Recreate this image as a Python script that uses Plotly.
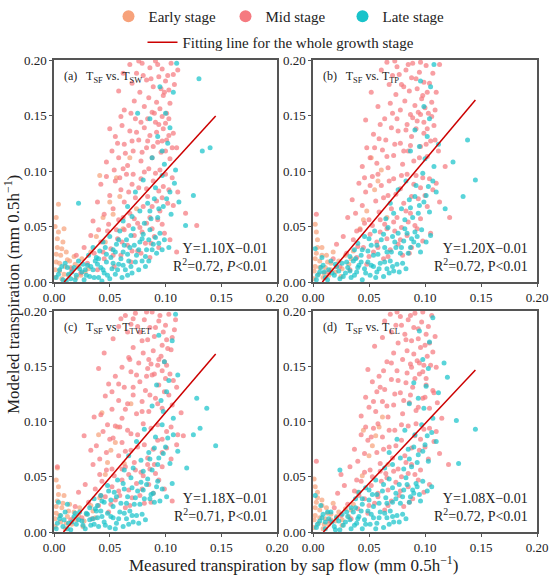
#!/usr/bin/env python3
"""
Measured (sap flow) vs modeled transpiration, 4 models, coloured by growth stage
"""

import plotly.graph_objects as go

# ---- data (mm 0.5h-1) ----
PANELS = ['a', 'b', 'c', 'd']
PANEL_TITLES = ['(a)   T<sub>SF</sub> vs. T<sub>SW</sub>',
                '(b)   T<sub>SF</sub> vs. T<sub>TP</sub>',
                '(c)   T<sub>SF</sub> vs. T<sub>TVET</sub>',
                '(d)   T<sub>SF</sub> vs. T<sub>CL</sub>']
SLOPES = [1.10, 1.20, 1.18, 1.08]
INTERCEPTS = [-0.01, -0.01, -0.01, -0.01]
R2 = [0.72, 0.72, 0.71, 0.72]
P_LABELS = ['<i>P</i>', 'P', 'P', 'P']
X_END = 0.145
TICKS = [0.00, 0.05, 0.10, 0.15, 0.20]
STAGES = ['Early stage', 'Mid stage', 'Late stage']

MID_A = [(0.068,0.196),(0.074,0.188),(0.079,0.197),(0.083,0.182),(0.086,0.193),(0.089,0.176),(0.091,0.199),(0.094,0.185),
         (0.097,0.192),(0.099,0.171),(0.102,0.186),(0.105,0.197),(0.108,0.178),(0.111,0.191),(0.072,0.163),(0.077,0.171),
         (0.081,0.158),(0.085,0.166),(0.088,0.153),(0.092,0.162),(0.095,0.156),(0.098,0.168),(0.101,0.152),(0.104,0.161),
         (0.063,0.155),(0.058,0.172),
         (0.047,0.108),(0.052,0.118),(0.055,0.131),(0.058,0.112),(0.061,0.141),(0.063,0.124),(0.066,0.105),(0.068,0.136),
         (0.071,0.118),(0.073,0.147),(0.076,0.128),(0.078,0.109),(0.081,0.139),(0.083,0.121),(0.086,0.132),(0.088,0.112),
         (0.091,0.144),(0.093,0.126),(0.096,0.117),(0.098,0.138),(0.101,0.128),(0.104,0.111),(0.107,0.134),(0.110,0.121),
         (0.060,0.149),(0.050,0.138),(0.085,0.102),(0.095,0.101),
         (0.039,0.072),(0.042,0.088),(0.045,0.061),(0.047,0.095),(0.050,0.078),(0.053,0.066),(0.055,0.091),(0.058,0.056),
         (0.060,0.083),(0.063,0.072),(0.065,0.097),(0.068,0.062),(0.070,0.088),(0.073,0.076),(0.075,0.053),(0.078,0.093),
         (0.080,0.068),(0.083,0.084),(0.086,0.058),(0.089,0.091),(0.092,0.073),(0.095,0.064),(0.098,0.086),(0.102,0.071),
         (0.106,0.094),(0.111,0.081),(0.118,0.062),(0.128,0.051),
         (0.016,0.012),(0.020,0.024),(0.024,0.008),(0.027,0.031),(0.030,0.017),(0.033,0.042),(0.036,0.026),(0.039,0.011),
         (0.042,0.036),(0.045,0.021),(0.048,0.046),(0.051,0.030),(0.054,0.014),(0.057,0.039),(0.060,0.024),(0.063,0.047),
         (0.066,0.033),(0.069,0.018),(0.072,0.042),(0.075,0.028),(0.079,0.045),(0.082,0.035),(0.086,0.022),(0.090,0.041),
         (0.094,0.031),(0.099,0.044),(0.104,0.038),(0.110,0.027),
         (0.062,0.188),(0.070,0.179),(0.076,0.199),(0.080,0.186),(0.087,0.183),(0.093,0.196),(0.096,0.174),(0.100,0.181),
         (0.103,0.173),(0.107,0.187),(0.084,0.147),(0.090,0.152),(0.094,0.142),(0.097,0.149),(0.100,0.143),(0.103,0.147),
         (0.069,0.152),(0.078,0.144),(0.057,0.125),(0.064,0.116),(0.070,0.127),(0.074,0.135),(0.079,0.117),(0.084,0.127),
         (0.089,0.122),(0.092,0.135),(0.097,0.127),(0.100,0.118),(0.103,0.132),(0.106,0.121),(0.054,0.101),(0.059,0.094),
         (0.062,0.102),(0.067,0.081),(0.071,0.097),(0.076,0.085),(0.081,0.099),(0.084,0.077),(0.088,0.068),(0.091,0.098),
         (0.094,0.082),(0.097,0.076),(0.100,0.097),(0.103,0.083),(0.107,0.069),(0.049,0.052),(0.056,0.047),(0.062,0.058),
         (0.067,0.051),(0.072,0.057),(0.077,0.049),(0.083,0.053),(0.088,0.048),(0.093,0.056),(0.097,0.052),(0.044,0.027),
         (0.053,0.024),(0.061,0.036),(0.070,0.028),(0.078,0.026),(0.087,0.035),(0.035,0.055),(0.040,0.047)]
LATE_A = [(0.002,0.004),(0.005,0.011),(0.008,0.002),(0.010,0.017),(0.013,0.007),(0.015,0.003),(0.018,0.013),(0.020,0.006),
          (0.022,0.019),(0.025,0.009),(0.027,0.002),(0.030,0.015),(0.032,0.005),(0.035,0.011),(0.037,0.019),(0.040,0.004),
          (0.042,0.013),(0.045,0.008),(0.047,0.018),(0.050,0.003),(0.052,0.012),(0.055,0.007),(0.058,0.016),(0.061,0.004),
          (0.064,0.011),(0.067,0.019),(0.070,0.008),(0.012,0.013),(0.028,0.011),(0.043,0.001),
          (0.031,0.024),(0.035,0.031),(0.038,0.022),(0.041,0.028),(0.044,0.036),(0.047,0.025),(0.050,0.041),(0.053,0.029),
          (0.056,0.034),(0.059,0.046),(0.062,0.027),(0.065,0.038),(0.068,0.031),(0.071,0.048),(0.074,0.024),(0.077,0.036),
          (0.080,0.043),(0.083,0.029),(0.086,0.047),(0.089,0.034),(0.092,0.026),(0.095,0.044),(0.099,0.038),(0.103,0.031),
          (0.060,0.021),
          (0.062,0.055),(0.066,0.068),(0.070,0.059),(0.073,0.081),(0.077,0.064),(0.080,0.092),(0.084,0.071),(0.087,0.057),
          (0.091,0.085),(0.094,0.066),(0.097,0.096),(0.101,0.075),(0.105,0.061),(0.108,0.089),(0.112,0.072),
          (0.088,0.112),(0.093,0.131),(0.097,0.118),(0.100,0.152),(0.104,0.139),(0.107,0.171),(0.110,0.197),(0.095,0.176),
          (0.102,0.125),(0.086,0.147),
          (0.022,0.071),(0.125,0.078),(0.133,0.118),(0.130,0.183),(0.140,0.121),(0.118,0.051),(0.075,0.152),
          (0.004,0.007),(0.007,0.014),(0.011,0.001),(0.016,0.009),(0.019,0.002),(0.023,0.012),(0.026,0.016),(0.029,0.006),
          (0.033,0.014),(0.036,0.004),(0.039,0.016),(0.044,0.011),(0.048,0.006),(0.053,0.017),(0.057,0.011),(0.062,0.015),
          (0.066,0.006),(0.069,0.014),(0.073,0.018),(0.076,0.011),(0.079,0.019),(0.082,0.014),(0.085,0.019),(0.040,0.021),
          (0.046,0.031),(0.051,0.022),(0.055,0.027),(0.058,0.038),(0.063,0.033),(0.066,0.025),(0.069,0.042),(0.072,0.033),
          (0.076,0.029),(0.079,0.039),(0.082,0.023),(0.085,0.038),(0.088,0.029),(0.091,0.040),(0.094,0.035),(0.097,0.029),
          (0.081,0.053),(0.086,0.064),(0.090,0.075),(0.093,0.058),(0.098,0.068),(0.104,0.081),(0.109,0.101),(0.099,0.106)]
EARLY_A = [(0.001,0.004),(0.002,0.018),(0.003,0.031),(0.004,0.045),(0.002,0.058),(0.005,0.010),(0.006,0.024),(0.008,0.036),
           (0.007,0.003),(0.010,0.014),(0.011,0.027),(0.013,0.006),(0.014,0.019),(0.016,0.010),(0.018,0.023),(0.020,0.004),
           (0.022,0.014),(0.025,0.021),(0.028,0.009),(0.004,0.070),(0.009,0.048),(0.033,0.027),(0.038,0.041),(0.044,0.058),
           (0.050,0.072),(0.056,0.094),(0.062,0.048),(0.068,0.112),(0.041,0.096),(0.074,0.066),
           (0.001,0.011),(0.002,0.025),(0.003,0.039),(0.001,0.050),(0.005,0.017),(0.007,0.030),(0.009,0.007),(0.012,0.020),
           (0.015,0.013),(0.019,0.016),(0.024,0.006),(0.031,0.012),(0.046,0.036),(0.053,0.061),(0.059,0.077)]

MID_B = [(0.066,0.198),(0.071,0.186),(0.075,0.194),(0.079,0.178),(0.083,0.191),(0.086,0.172),(0.089,0.197),(0.092,0.183),
         (0.095,0.189),(0.098,0.168),(0.101,0.195),(0.104,0.179),(0.107,0.188),(0.110,0.171),(0.113,0.196),(0.069,0.161),
         (0.074,0.169),(0.078,0.155),(0.082,0.163),(0.087,0.151),(0.091,0.159),(0.094,0.153),(0.097,0.165),(0.100,0.157),
         (0.103,0.152),(0.058,0.158),(0.052,0.171),
         (0.044,0.104),(0.048,0.121),(0.051,0.112),(0.054,0.133),(0.057,0.107),(0.060,0.142),(0.062,0.119),(0.065,0.128),
         (0.067,0.103),(0.070,0.139),(0.072,0.114),(0.075,0.147),(0.078,0.125),(0.080,0.106),(0.083,0.137),(0.085,0.118),
         (0.088,0.131),(0.090,0.109),(0.093,0.145),(0.096,0.122),(0.099,0.134),(0.102,0.113),(0.105,0.127),(0.108,0.141),
         (0.112,0.118),(0.047,0.146),(0.118,0.104),
         (0.031,0.058),(0.035,0.074),(0.038,0.062),(0.041,0.089),(0.044,0.069),(0.047,0.081),(0.050,0.056),(0.053,0.095),
         (0.056,0.073),(0.059,0.063),(0.061,0.087),(0.064,0.052),(0.067,0.078),(0.070,0.066),(0.072,0.093),(0.075,0.058),
         (0.078,0.084),(0.081,0.071),(0.084,0.097),(0.087,0.062),(0.090,0.088),(0.094,0.075),(0.098,0.094),(0.102,0.068),
         (0.107,0.083),(0.113,0.072),(0.122,0.058),(0.003,0.061),
         (0.014,0.009),(0.018,0.021),(0.021,0.034),(0.024,0.014),(0.027,0.041),(0.030,0.026),(0.033,0.011),(0.036,0.038),
         (0.039,0.022),(0.042,0.047),(0.045,0.031),(0.048,0.016),(0.051,0.043),(0.054,0.027),(0.057,0.036),(0.060,0.045),
         (0.063,0.021),(0.066,0.039),(0.069,0.029),(0.073,0.046),(0.076,0.034),(0.080,0.024),(0.084,0.042),(0.088,0.031),
         (0.093,0.048),(0.098,0.037),(0.105,0.044),
         (0.061,0.191),(0.068,0.178),(0.073,0.199),(0.077,0.187),(0.081,0.176),(0.085,0.196),(0.088,0.184),(0.093,0.174),
         (0.096,0.198),(0.099,0.180),(0.102,0.171),(0.106,0.162),(0.109,0.155),(0.084,0.142),(0.089,0.148),(0.092,0.138),
         (0.096,0.151),(0.099,0.144),(0.102,0.138),(0.106,0.149),(0.064,0.147),(0.071,0.152),(0.076,0.136),(0.055,0.121),
         (0.059,0.129),(0.066,0.113),(0.073,0.124),(0.081,0.118),(0.087,0.123),(0.095,0.112),(0.101,0.124),(0.109,0.128),
         (0.046,0.094),(0.051,0.087),(0.058,0.097),(0.063,0.076),(0.068,0.091),(0.074,0.079),(0.079,0.096),(0.083,0.064),
         (0.088,0.077),(0.092,0.096),(0.096,0.085),(0.100,0.078),(0.104,0.093),(0.110,0.089),(0.039,0.046),(0.046,0.053),
         (0.053,0.051),(0.060,0.056),(0.066,0.048),(0.072,0.054),(0.079,0.049),(0.085,0.054),(0.091,0.051),(0.096,0.057),
         (0.040,0.032),(0.050,0.023),(0.058,0.031),(0.067,0.023),(0.078,0.038),(0.086,0.026)]
LATE_B = [(0.003,0.002),(0.006,0.009),(0.009,0.015),(0.011,0.004),(0.014,0.011),(0.016,0.019),(0.019,0.006),(0.021,0.014),
          (0.024,0.003),(0.026,0.017),(0.029,0.008),(0.031,0.013),(0.034,0.004),(0.036,0.019),(0.039,0.009),(0.041,0.015),
          (0.044,0.002),(0.046,0.012),(0.049,0.018),(0.051,0.006),(0.054,0.014),(0.057,0.009),(0.060,0.017),(0.063,0.005),
          (0.066,0.012),(0.069,0.019),(0.072,0.010),(0.075,0.016),(0.008,0.022),(0.002,0.030),
          (0.033,0.023),(0.037,0.029),(0.040,0.035),(0.043,0.024),(0.046,0.041),(0.049,0.028),(0.052,0.033),(0.055,0.046),
          (0.058,0.025),(0.061,0.038),(0.064,0.031),(0.067,0.049),(0.070,0.027),(0.073,0.036),(0.076,0.044),(0.079,0.031),
          (0.082,0.048),(0.085,0.026),(0.088,0.039),(0.091,0.045),(0.094,0.033),(0.097,0.047),(0.101,0.036),(0.105,0.042),
          (0.065,0.057),(0.069,0.071),(0.072,0.062),(0.076,0.083),(0.079,0.066),(0.083,0.091),(0.086,0.074),(0.089,0.058),
          (0.092,0.087),(0.095,0.069),(0.098,0.098),(0.101,0.078),(0.104,0.063),(0.107,0.091),(0.110,0.081),
          (0.087,0.118),(0.091,0.137),(0.095,0.122),(0.099,0.158),(0.102,0.131),(0.105,0.176),(0.108,0.196),(0.096,0.181),
          (0.104,0.147),(0.112,0.124),
          (0.145,0.092),(0.138,0.128),(0.134,0.077),(0.125,0.108),(0.118,0.066),
          (0.004,0.006),(0.007,0.013),(0.010,0.009),(0.013,0.002),(0.017,0.008),(0.020,0.016),(0.023,0.010),(0.027,0.005),
          (0.030,0.018),(0.033,0.010),(0.037,0.006),(0.040,0.013),(0.043,0.018),(0.047,0.008),(0.052,0.015),(0.056,0.004),
          (0.059,0.012),(0.064,0.018),(0.068,0.008),(0.071,0.014),(0.077,0.009),(0.080,0.017),(0.083,0.012),(0.038,0.021),
          (0.044,0.029),(0.050,0.039),(0.054,0.024),(0.057,0.033),(0.063,0.043),(0.066,0.027),(0.071,0.041),(0.074,0.031),
          (0.078,0.026),(0.081,0.037),(0.084,0.044),(0.087,0.031),(0.090,0.036),(0.093,0.041),(0.096,0.027),(0.082,0.056),
          (0.087,0.067),(0.091,0.077),(0.094,0.062),(0.099,0.072),(0.103,0.086),(0.108,0.104),(0.100,0.111)]
EARLY_B = [(0.001,0.003),(0.002,0.014),(0.003,0.026),(0.004,0.038),(0.005,0.007),(0.006,0.019),(0.008,0.031),(0.009,0.004),
           (0.011,0.013),(0.012,0.024),(0.014,0.006),(0.016,0.017),(0.018,0.027),(0.020,0.009),(0.023,0.019),(0.026,0.012),
           (0.029,0.024),(0.032,0.016),(0.036,0.028),(0.002,0.052),(0.042,0.048),(0.048,0.064),(0.055,0.083),(0.061,0.101),
           (0.066,0.058),(0.052,0.112),
           (0.001,0.010),(0.002,0.021),(0.004,0.031),(0.003,0.045),(0.006,0.013),(0.008,0.024),(0.010,0.008),(0.013,0.018),
           (0.016,0.011),(0.021,0.014),(0.025,0.005),(0.034,0.021),(0.045,0.056),(0.058,0.091)]

MID_C = [(0.064,0.196),(0.069,0.188),(0.073,0.198),(0.077,0.181),(0.081,0.192),(0.084,0.174),(0.088,0.199),(0.091,0.185),
         (0.094,0.191),(0.097,0.169),(0.100,0.187),(0.103,0.197),(0.106,0.176),(0.109,0.192),(0.067,0.158),(0.071,0.167),
         (0.076,0.153),(0.080,0.162),(0.085,0.156),(0.089,0.164),(0.093,0.151),(0.096,0.159),(0.099,0.154),(0.102,0.166),
         (0.045,0.162),(0.053,0.175),(0.058,0.186),
         (0.042,0.106),(0.046,0.123),(0.049,0.134),(0.052,0.111),(0.055,0.141),(0.058,0.119),(0.061,0.103),(0.063,0.131),
         (0.066,0.116),(0.069,0.145),(0.071,0.124),(0.074,0.107),(0.077,0.136),(0.079,0.118),(0.082,0.128),(0.085,0.109),
         (0.088,0.142),(0.091,0.121),(0.094,0.133),(0.097,0.112),(0.100,0.139),(0.103,0.124),(0.106,0.115),(0.110,0.131),
         (0.040,0.148),(0.114,0.108),(0.084,0.148),
         (0.035,0.061),(0.038,0.078),(0.041,0.066),(0.044,0.091),(0.047,0.072),(0.050,0.084),(0.052,0.057),(0.055,0.096),
         (0.058,0.069),(0.061,0.081),(0.064,0.059),(0.066,0.092),(0.069,0.074),(0.072,0.063),(0.075,0.088),(0.078,0.054),
         (0.081,0.079),(0.084,0.067),(0.087,0.094),(0.090,0.061),(0.093,0.083),(0.097,0.072),(0.101,0.091),(0.105,0.066),
         (0.110,0.079),(0.116,0.087),(0.027,0.087),(0.003,0.059),
         (0.015,0.011),(0.019,0.023),(0.022,0.036),(0.025,0.013),(0.028,0.043),(0.031,0.027),(0.034,0.012),(0.037,0.039),
         (0.040,0.024),(0.043,0.046),(0.046,0.032),(0.049,0.018),(0.052,0.041),(0.055,0.029),(0.058,0.037),(0.061,0.047),
         (0.064,0.022),(0.067,0.038),(0.070,0.031),(0.074,0.044),(0.077,0.033),(0.081,0.026),(0.085,0.043),(0.089,0.035),
         (0.094,0.047),(0.099,0.039),(0.106,0.028),
         (0.060,0.193),(0.066,0.181),(0.071,0.193),(0.075,0.186),(0.079,0.173),(0.083,0.199),(0.086,0.185),(0.090,0.177),
         (0.095,0.196),(0.098,0.181),(0.101,0.174),(0.105,0.165),(0.108,0.183),(0.083,0.141),(0.087,0.152),(0.090,0.143),
         (0.094,0.156),(0.097,0.146),(0.101,0.151),(0.104,0.143),(0.061,0.149),(0.068,0.156),(0.074,0.142),(0.052,0.127),
         (0.058,0.134),(0.064,0.111),(0.071,0.131),(0.079,0.109),(0.086,0.124),(0.093,0.116),(0.099,0.127),(0.107,0.137),
         (0.048,0.097),(0.053,0.085),(0.059,0.095),(0.064,0.073),(0.069,0.089),(0.075,0.077),(0.080,0.098),(0.084,0.061),
         (0.089,0.075),(0.093,0.097),(0.097,0.084),(0.101,0.076),(0.105,0.095),(0.111,0.088),(0.041,0.052),(0.047,0.056),
         (0.054,0.051),(0.061,0.057),(0.067,0.052),(0.073,0.056),(0.080,0.051),(0.086,0.057),(0.091,0.053),(0.097,0.059),
         (0.042,0.033),(0.051,0.025),(0.059,0.033),(0.068,0.024),(0.079,0.039),(0.087,0.027),(0.036,0.104),(0.033,0.074)]
LATE_C = [(0.002,0.003),(0.005,0.012),(0.008,0.005),(0.010,0.018),(0.013,0.008),(0.015,0.002),(0.018,0.014),(0.020,0.007),
          (0.023,0.018),(0.025,0.010),(0.028,0.003),(0.030,0.016),(0.033,0.006),(0.035,0.012),(0.038,0.019),(0.040,0.005),
          (0.043,0.014),(0.045,0.009),(0.048,0.017),(0.050,0.004),(0.053,0.013),(0.056,0.008),(0.059,0.018),(0.062,0.005),
          (0.065,0.012),(0.068,0.019),(0.071,0.009),(0.074,0.015),(0.004,0.027),(0.012,0.025),
          (0.032,0.022),(0.036,0.030),(0.039,0.024),(0.042,0.033),(0.045,0.027),(0.048,0.042),(0.051,0.029),(0.054,0.036),
          (0.057,0.047),(0.060,0.026),(0.063,0.039),(0.066,0.032),(0.069,0.049),(0.072,0.025),(0.075,0.037),(0.078,0.045),
          (0.081,0.030),(0.084,0.048),(0.087,0.034),(0.090,0.027),(0.093,0.046),(0.097,0.039),(0.101,0.032),(0.106,0.044),
          (0.063,0.056),(0.067,0.069),(0.071,0.058),(0.074,0.082),(0.078,0.065),(0.081,0.093),(0.085,0.072),(0.088,0.056),
          (0.091,0.086),(0.094,0.067),(0.097,0.097),(0.100,0.077),(0.104,0.062),(0.107,0.088),(0.111,0.073),
          (0.088,0.114),(0.092,0.133),(0.096,0.119),(0.099,0.154),(0.103,0.137),(0.106,0.173),(0.109,0.197),(0.094,0.178),
          (0.101,0.127),(0.111,0.142),
          (0.137,0.112),(0.145,0.078),(0.128,0.121),(0.125,0.088),(0.131,0.094),(0.119,0.058),
          (0.003,0.008),(0.006,0.015),(0.009,0.011),(0.012,0.003),(0.016,0.009),(0.019,0.017),(0.022,0.011),(0.026,0.006),
          (0.029,0.017),(0.032,0.011),(0.036,0.007),(0.039,0.013),(0.042,0.019),(0.046,0.006),(0.051,0.014),(0.055,0.003),
          (0.058,0.012),(0.063,0.017),(0.067,0.007),(0.070,0.015),(0.076,0.008),(0.079,0.016),(0.082,0.011),(0.037,0.021),
          (0.043,0.028),(0.049,0.037),(0.053,0.023),(0.056,0.032),(0.062,0.044),(0.065,0.026),(0.070,0.040),(0.073,0.031),
          (0.077,0.025),(0.080,0.038),(0.083,0.043),(0.086,0.030),(0.089,0.035),(0.092,0.041),(0.095,0.028),(0.080,0.055),
          (0.086,0.066),(0.090,0.076),(0.093,0.061),(0.098,0.071),(0.102,0.085),(0.107,0.103),(0.098,0.109)]
EARLY_C = [(0.001,0.005),(0.002,0.017),(0.003,0.028),(0.004,0.041),(0.003,0.058),(0.006,0.009),(0.007,0.022),(0.009,0.033),
           (0.010,0.003),(0.012,0.014),(0.014,0.025),(0.016,0.007),(0.018,0.018),(0.020,0.011),(0.023,0.022),(0.026,0.005),
           (0.029,0.016),(0.033,0.024),(0.037,0.013),(0.041,0.031),(0.046,0.052),(0.051,0.074),(0.057,0.095),(0.043,0.108),
           (0.063,0.062),(0.069,0.116),
           (0.001,0.012),(0.002,0.023),(0.004,0.034),(0.002,0.047),(0.005,0.015),(0.008,0.026),(0.011,0.008),(0.013,0.019),
           (0.017,0.012),(0.022,0.015),(0.027,0.010),(0.035,0.019),(0.048,0.063),(0.055,0.081),(0.040,0.088)]

MID_D = [(0.069,0.197),(0.074,0.187),(0.078,0.195),(0.082,0.179),(0.085,0.192),(0.088,0.173),(0.091,0.198),(0.094,0.184),
         (0.097,0.190),(0.100,0.169),(0.103,0.186),(0.106,0.196),(0.109,0.177),(0.072,0.162),(0.076,0.171),(0.080,0.156),
         (0.084,0.164),(0.087,0.152),(0.090,0.161),(0.093,0.155),(0.096,0.167),(0.099,0.151),(0.102,0.159),(0.055,0.168),
         (0.062,0.176),(0.066,0.154),
         (0.043,0.105),(0.047,0.122),(0.050,0.113),(0.053,0.136),(0.056,0.109),(0.059,0.141),(0.062,0.118),(0.064,0.129),
         (0.067,0.104),(0.070,0.138),(0.072,0.115),(0.075,0.146),(0.078,0.126),(0.080,0.107),(0.083,0.135),(0.086,0.117),
         (0.089,0.131),(0.092,0.110),(0.095,0.143),(0.098,0.121),(0.101,0.133),(0.104,0.112),(0.107,0.128),(0.111,0.117),
         (0.049,0.147),(0.115,0.103),(0.057,0.127),
         (0.033,0.059),(0.037,0.075),(0.040,0.064),(0.043,0.088),(0.046,0.071),(0.049,0.083),(0.051,0.056),(0.054,0.094),
         (0.057,0.072),(0.060,0.062),(0.062,0.086),(0.065,0.053),(0.068,0.077),(0.071,0.067),(0.073,0.092),(0.076,0.057),
         (0.079,0.083),(0.082,0.069),(0.085,0.096),(0.088,0.061),(0.091,0.087),(0.095,0.074),(0.099,0.093),(0.103,0.066),
         (0.108,0.082),(0.113,0.071),(0.121,0.061),(0.025,0.052),
         (0.015,0.010),(0.019,0.022),(0.022,0.035),(0.025,0.015),(0.028,0.042),(0.031,0.025),(0.034,0.012),(0.037,0.037),
         (0.040,0.021),(0.043,0.046),(0.046,0.030),(0.049,0.017),(0.052,0.042),(0.055,0.026),(0.058,0.035),(0.061,0.046),
         (0.064,0.020),(0.067,0.038),(0.070,0.028),(0.074,0.045),(0.077,0.033),(0.081,0.023),(0.085,0.041),(0.089,0.030),
         (0.094,0.047),(0.099,0.036),(0.104,0.043),(0.003,0.064),
         (0.064,0.191),(0.070,0.181),(0.075,0.199),(0.079,0.187),(0.083,0.174),(0.087,0.196),(0.090,0.185),(0.094,0.175),
         (0.098,0.199),(0.101,0.179),(0.104,0.171),(0.107,0.163),(0.110,0.149),(0.084,0.144),(0.088,0.149),(0.091,0.139),
         (0.095,0.153),(0.098,0.145),(0.101,0.139),(0.105,0.151),(0.063,0.146),(0.070,0.153),(0.076,0.137),(0.054,0.118),
         (0.060,0.131),(0.066,0.114),(0.073,0.125),(0.081,0.119),(0.087,0.124),(0.094,0.113),(0.100,0.122),(0.108,0.126),
         (0.047,0.095),(0.052,0.086),(0.058,0.098),(0.063,0.075),(0.068,0.092),(0.074,0.078),(0.079,0.097),(0.083,0.063),
         (0.088,0.076),(0.092,0.098),(0.096,0.084),(0.100,0.077),(0.104,0.094),(0.110,0.091),(0.039,0.047),(0.046,0.054),
         (0.053,0.050),(0.060,0.055),(0.066,0.049),(0.072,0.055),(0.079,0.050),(0.085,0.053),(0.091,0.052),(0.096,0.056),
         (0.041,0.033),(0.050,0.024),(0.058,0.032),(0.067,0.024),(0.078,0.037),(0.086,0.027)]
LATE_D = [(0.003,0.004),(0.006,0.010),(0.009,0.016),(0.011,0.003),(0.014,0.012),(0.016,0.018),(0.019,0.005),(0.021,0.013),
          (0.024,0.002),(0.026,0.016),(0.029,0.009),(0.031,0.014),(0.034,0.003),(0.036,0.018),(0.039,0.008),(0.041,0.014),
          (0.044,0.003),(0.046,0.011),(0.049,0.019),(0.051,0.007),(0.054,0.013),(0.057,0.008),(0.060,0.018),(0.063,0.004),
          (0.066,0.013),(0.069,0.019),(0.072,0.009),(0.075,0.015),(0.002,0.033),(0.007,0.024),
          (0.034,0.022),(0.038,0.030),(0.041,0.036),(0.044,0.025),(0.047,0.040),(0.050,0.029),(0.053,0.034),(0.056,0.047),
          (0.059,0.026),(0.062,0.037),(0.065,0.031),(0.068,0.048),(0.071,0.027),(0.074,0.035),(0.077,0.043),(0.080,0.032),
          (0.083,0.049),(0.086,0.027),(0.089,0.038),(0.092,0.044),(0.095,0.034),(0.098,0.046),(0.102,0.037),(0.106,0.041),
          (0.064,0.058),(0.068,0.072),(0.071,0.061),(0.075,0.084),(0.078,0.067),(0.082,0.092),(0.085,0.075),(0.088,0.059),
          (0.091,0.088),(0.094,0.070),(0.097,0.097),(0.100,0.079),(0.103,0.064),(0.106,0.090),(0.110,0.082),
          (0.086,0.116),(0.090,0.135),(0.094,0.121),(0.098,0.156),(0.101,0.132),(0.104,0.172),(0.107,0.194),(0.095,0.182),
          (0.103,0.148),(0.112,0.126),
          (0.145,0.093),(0.128,0.101),(0.120,0.140),(0.130,0.062),(0.117,0.153),(0.024,0.056),
          (0.004,0.007),(0.008,0.013),(0.011,0.009),(0.013,0.018),(0.017,0.009),(0.020,0.002),(0.023,0.010),(0.027,0.006),
          (0.030,0.018),(0.033,0.011),(0.037,0.006),(0.040,0.012),(0.043,0.019),(0.047,0.007),(0.052,0.016),(0.056,0.003),
          (0.059,0.013),(0.064,0.017),(0.068,0.007),(0.071,0.014),(0.077,0.009),(0.080,0.016),(0.083,0.012),(0.038,0.022),
          (0.044,0.030),(0.050,0.038),(0.054,0.023),(0.057,0.034),(0.063,0.043),(0.066,0.026),(0.071,0.040),(0.074,0.030),
          (0.078,0.026),(0.081,0.038),(0.084,0.043),(0.087,0.032),(0.090,0.035),(0.093,0.041),(0.096,0.028),(0.081,0.057),
          (0.086,0.066),(0.090,0.077),(0.093,0.063),(0.098,0.073),(0.102,0.087),(0.107,0.103),(0.099,0.112)]
EARLY_D = [(0.001,0.004),(0.002,0.015),(0.003,0.027),(0.004,0.036),(0.005,0.008),(0.006,0.020),(0.008,0.029),(0.009,0.003),
           (0.011,0.012),(0.012,0.022),(0.014,0.007),(0.016,0.016),(0.018,0.026),(0.020,0.010),(0.023,0.018),(0.026,0.011),
           (0.029,0.021),(0.032,0.014),(0.036,0.025),(0.001,0.048),(0.044,0.051),(0.050,0.069),(0.056,0.087),(0.062,0.104),
           (0.067,0.061),(0.045,0.092),
           (0.001,0.011),(0.002,0.022),(0.004,0.031),(0.002,0.041),(0.006,0.013),(0.008,0.024),(0.010,0.007),(0.013,0.017),
           (0.016,0.011),(0.021,0.014),(0.026,0.006),(0.034,0.020),(0.040,0.036),(0.053,0.078),(0.059,0.095)]

EARLY = [EARLY_A, EARLY_B, EARLY_C, EARLY_D]
MID = [MID_A, MID_B, MID_C, MID_D]
LATE = [LATE_A, LATE_B, LATE_C, LATE_D]

# ---- style ----
FONT = 'Liberation Serif'
COLORS = {'Early stage': '#F7A27B', 'Mid stage': '#F57A80', 'Late stage': '#19C3CA'}
LINE_COLOR = '#CC0000'
FRAME = '#555555'
W, H = 550, 578

# panel boxes in pixels: (left, right, top, bottom)
BOXES = [(54, 277, 60, 282), (313, 537, 60, 282),
         (54, 277, 311, 532), (313, 537, 311, 532)]


def px_domain(box):
    l, r, t, b = box
    return [l / W, r / W], [1 - b / H, 1 - t / H]


def main():
    fig = go.Figure()

    for i, p in enumerate(PANELS):
        ax = '' if i == 0 else str(i + 1)
        for stage, pts in zip(STAGES, [EARLY[i], MID[i], LATE[i]]):
            xs, ys = zip(*pts)
            fig.add_trace(go.Scatter(
                x=xs, y=ys, mode='markers', name=stage,
                marker=dict(size=5, color=COLORS[stage], opacity=0.72, line=dict(width=0)),
                xaxis='x' + ax, yaxis='y' + ax, showlegend=False, hoverinfo='skip'))

        # fitted line Y = aX + b, drawn from Y = 0 to X_END
        a, b = SLOPES[i], INTERCEPTS[i]
        x0 = -b / a
        fig.add_trace(go.Scatter(
            x=[x0, X_END], y=[a * x0 + b, a * X_END + b], mode='lines',
            name='Fitting line for the whole growth stage',
            line=dict(color=LINE_COLOR, width=1.5),
            xaxis='x' + ax, yaxis='y' + ax,
            showlegend=(i == 0), legend='legend2', hoverinfo='skip'))

        xd, yd = px_domain(BOXES[i])
        axis_style = dict(range=[0, 0.2], tickvals=TICKS, tickformat='.2f', automargin=False,
                          ticks='outside', ticklen=3, tickwidth=1.2, tickcolor=FRAME,
                          showline=True, linecolor=FRAME, linewidth=1.5, mirror=True,
                          showgrid=False, zeroline=False,
                          tickfont=dict(family=FONT, size=13, color='#222222'))
        fig.update_layout({
            'xaxis' + ax: dict(domain=xd, anchor='y' + ax, **axis_style),
            'yaxis' + ax: dict(domain=yd, anchor='x' + ax, **axis_style),
        })

        fig.add_annotation(text=PANEL_TITLES[i], xref=f'x{ax} domain', yref=f'y{ax} domain',
                           x=0.035, y=0.925, xanchor='left', yanchor='middle', showarrow=False,
                           font=dict(family=FONT, size=12, color='#222222'))
        eq = (f'Y={SLOPES[i]:.2f}X\u2212{abs(INTERCEPTS[i]):.2f}<br>'
              f'R<sup>2</sup>={R2[i]:.2f}, {P_LABELS[i]}<0.01')
        fig.add_annotation(text=eq, xref=f'x{ax} domain', yref=f'y{ax} domain',
                           x=0.97, y=0.11, xanchor='right', yanchor='middle', align='right',
                           showarrow=False, font=dict(family=FONT, size=14, color='#222222'))

    # legend entries for the stages (bigger symbols than the data points)
    for stage in STAGES:
        fig.add_trace(go.Scatter(x=[None], y=[None], mode='markers', name=stage,
                                 marker=dict(size=12, color=COLORS[stage]),
                                 legend='legend', showlegend=True))

    fig.add_annotation(text='Modeled transpiration (mm 0.5h<sup>\u22121</sup>)',
                       xref='paper', yref='paper', x=12 / W, y=1 - 295 / H, textangle=-90,
                       showarrow=False, xanchor='center', yanchor='middle',
                       font=dict(family=FONT, size=17, color='#222222'))
    fig.add_annotation(text='Measured transpiration by sap flow (mm 0.5h<sup>\u22121</sup>)',
                       xref='paper', yref='paper', x=293 / W, y=1 - 564 / H,
                       showarrow=False, xanchor='center', yanchor='middle',
                       font=dict(family=FONT, size=17, color='#222222'))

    fig.update_layout(
        width=W, height=H,
        margin=dict(l=0, r=0, t=0, b=0, autoexpand=False),
        paper_bgcolor='white', plot_bgcolor='white',
        font=dict(family=FONT, color='#222222'),
        legend=dict(orientation='h', x=284 / W, xanchor='center', y=1.0, yanchor='top',
                    font=dict(family=FONT, size=15), entrywidth=72, bgcolor='rgba(0,0,0,0)'),
        legend2=dict(orientation='h', x=281 / W, xanchor='center', y=1 - 26 / H, yanchor='top',
                     font=dict(family=FONT, size=15), bgcolor='rgba(0,0,0,0)'),
    )

    fig.write_html('out.html', config={'displayModeBar': False},
                   post_script="document.body.style.margin = '0px';")


if __name__ == '__main__':
    main()
